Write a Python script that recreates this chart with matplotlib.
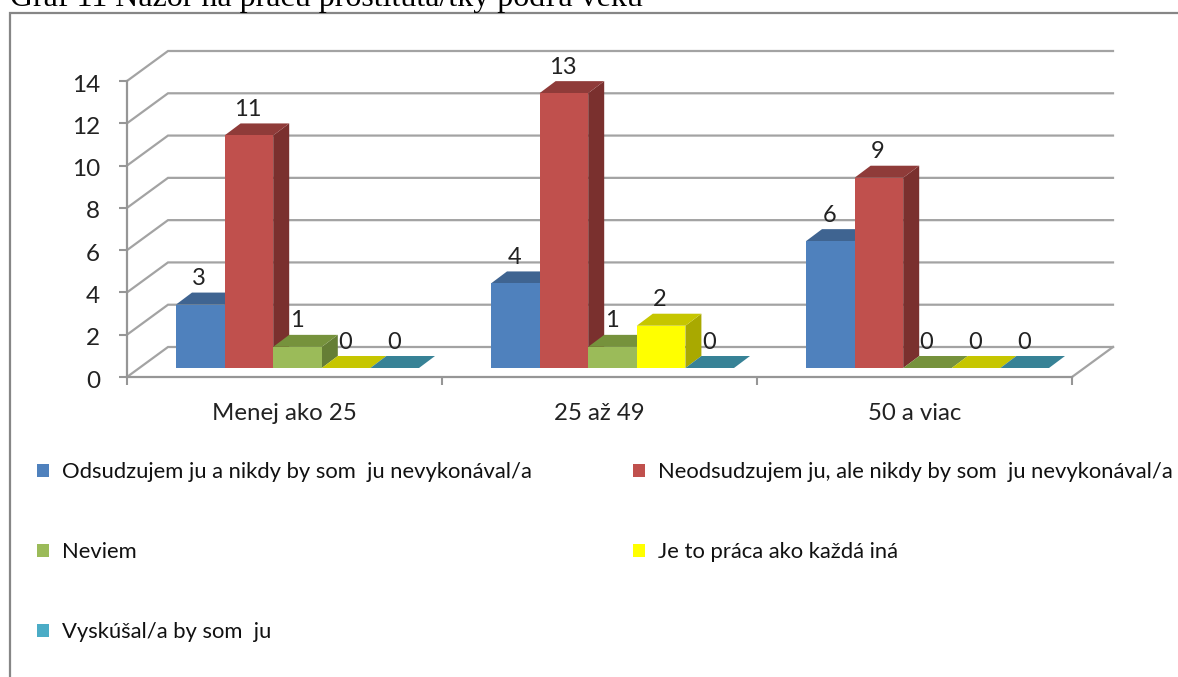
import matplotlib
matplotlib.use("Agg")
import matplotlib.pyplot as plt
from matplotlib.lines import Line2D
from matplotlib.patches import Polygon, Patch
from matplotlib.transforms import ScaledTranslation

# ---- data ----
categories = ["Menej ako 25", "25 až 49", "50 a viac"]
series_names = [
    "Odsudzujem ju a nikdy by som  ju nevykonával/a",
    "Neodsudzujem ju, ale nikdy by som  ju nevykonával/a",
    "Neviem",
    "Je to práca ako každá iná",
    "Vyskúšal/a by som  ju",
]
odsudzujem = [3, 4, 6]
neodsudzujem = [11, 13, 9]
neviem = [1, 1, 0]
praca = [0, 2, 0]
vyskusal = [0, 0, 0]
series_values = [odsudzujem, neodsudzujem, neviem, praca, vyskusal]
y_ticks = [0, 2, 4, 6, 8, 10, 12, 14]

front_colors = ["#4F81BD", "#C0504D", "#9BBB59", "#FFFF00", "#4BACC6"]
top_colors = ["#3F6491", "#8F3B39", "#76923C", "#C6C600", "#378296"]
side_colors = ["#35557C", "#7A302E", "#657E35", "#A9A900", "#2F6F80"]
GRID = "#A3A3A3"
AXIS = "#969696"
FONT = "Lato"
TXT = "#222222"

W, H = 1178, 677
fig = plt.figure(figsize=(W / 100, H / 100), dpi=100, facecolor="white")

# front plane of the 3-D box
L, R, B, T = 127, 1072, 377, 81
ax = fig.add_axes([L / W, 1 - B / H, (R - L) / W, (B - T) / H])
ax.set_xlim(0, len(categories))
ax.set_ylim(0, 14)
ax.patch.set_alpha(0)

px_x = len(categories) / (R - L)      # data units per pixel
px_y = 14 / (B - T)
wall_dx, wall_dy = 41 * px_x, 30 * px_y
bar_dx, bar_dy = 16 * px_x, 12 * px_y
bar_w = 48.6 * px_x
first_off = 49 * px_x
base = 9 * px_y

for s in ("top", "right"):
    ax.spines[s].set_visible(False)
for s in ("left", "bottom"):
    ax.spines[s].set_color(AXIS)
    ax.spines[s].set_linewidth(1.6)

ax.set_yticks(y_ticks)
ax.set_xticks(range(len(categories) + 1))
ax.set_xticklabels([])
ax.set_xticks([i + 0.5 for i in range(len(categories))], categories, minor=True)
ax.tick_params(axis="y", length=6, width=1.5, color=AXIS, pad=13.5, labelsize=17.5,
               labelcolor=TXT, labelfontfamily=FONT)
ax.tick_params(axis="x", which="major", length=6, width=1.5, color=AXIS)
ax.tick_params(axis="x", which="minor", length=0, pad=18.5, labelsize=17.3,
               labelcolor=TXT, labelfontfamily=FONT)
shift = ScaledTranslation(0, -2 / 100, fig.dpi_scale_trans)
for lab in ax.get_yticklabels():
    lab.set_transform(lab.get_transform() + shift)

# back wall gridlines with their depth segments
for v in y_ticks:
    ax.plot([0, wall_dx, len(categories) + wall_dx], [v, v + wall_dy, v + wall_dy],
            color=GRID, lw=1.6, clip_on=False, zorder=1, solid_joinstyle="miter")
ax.plot([len(categories), len(categories) + wall_dx], [0, wall_dy],
        color=GRID, lw=1.6, clip_on=False, zorder=1)

# bars
for i in range(len(categories)):
    for j, vals in enumerate(series_values):
        v = vals[i]
        x0 = i + first_off + j * bar_w
        x1 = x0 + bar_w
        z = 3 + i * 10 + j
        top = base + v
        if v > 0:
            ax.bar(x0, v, width=bar_w, bottom=base, align="edge", color=front_colors[j],
                   linewidth=0, zorder=z + 0.2, clip_on=False)
            ax.add_patch(Polygon([(x1, base), (x1 + bar_dx, base + bar_dy),
                                  (x1 + bar_dx, top + bar_dy), (x1, top)],
                                 closed=True, fc=side_colors[j], lw=0, zorder=z + 0.1,
                                 clip_on=False))
        ax.add_patch(Polygon([(x0, top), (x0 + bar_dx, top + bar_dy),
                              (x1 + bar_dx, top + bar_dy), (x1, top)],
                             closed=True, fc=top_colors[j], lw=0, zorder=z + 0.1,
                             clip_on=False))
        ax.annotate(str(v), (x0 + bar_w / 2, top + bar_dy), xytext=(-0.7, 10),
                    textcoords="offset points", ha="center", va="center",
                    fontsize=17, family=FONT, color=TXT, zorder=60, annotation_clip=False)

# legend
handles = [Patch(fc=front_colors[k], lw=0, label=series_names[k]) for k in (0, 2, 4, 1, 3)]
leg = fig.legend(handles=handles, ncol=2, frameon=False, loc="upper left",
                 bbox_to_anchor=(37 / W, 1 - 462.5 / H), borderaxespad=0, borderpad=0,
                 prop={"family": FONT, "size": 15.8}, labelcolor="#111111",
                 handlelength=0.55, handleheight=0.55, handletextpad=0.6,
                 labelspacing=2.73, columnspacing=4.6)

# caption clipped by the top of the picture and page frame
fig.text(10 / W, 1 - 6 / H, "Graf 11 Názor na prácu prostitúta/tky podľa veku",
         family="Liberation Serif", fontsize=23, color="black", ha="left", va="baseline")
fig.add_artist(Line2D([10 / W, 10 / W, 1], [0, 1 - 13 / H, 1 - 13 / H],
                      color="#868686", lw=1.6, solid_joinstyle="miter"))

fig.savefig("out.png", dpi=100, facecolor="white")
